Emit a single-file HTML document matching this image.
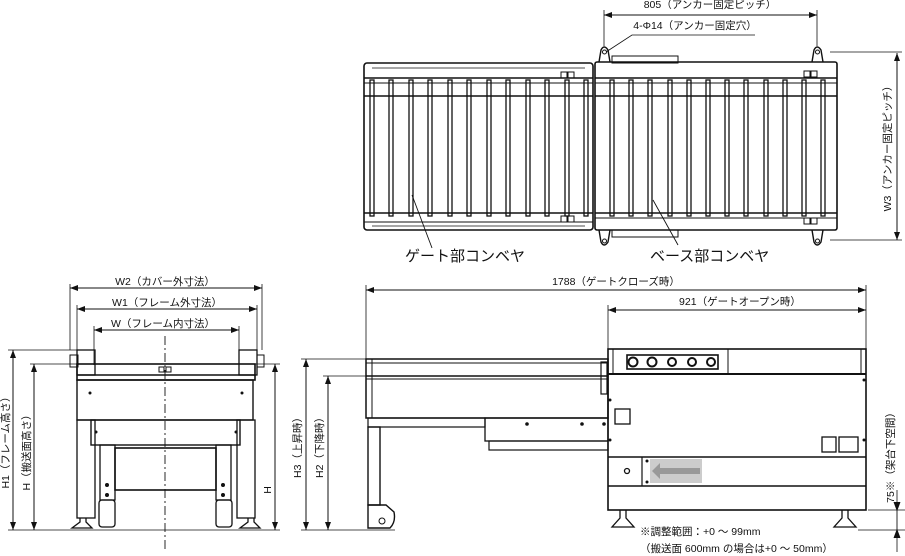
<!DOCTYPE html>
<html><head><meta charset="utf-8"><style>
html,body{margin:0;padding:0;background:#fff;}
svg{display:block;}
text{font-family:"Liberation Sans","Noto Sans CJK JP",sans-serif;fill:#111;}
</style></head><body>
<svg width="905" height="556" viewBox="0 0 905 556" xmlns="http://www.w3.org/2000/svg">
<defs>
<marker id="a" markerWidth="8" markerHeight="6" refX="8" refY="3" orient="auto-start-reverse" markerUnits="userSpaceOnUse"><path d="M0,0 L8,3 L0,6z" fill="#111"/></marker>
</defs>
<g stroke="#111" fill="none" stroke-width="1">

<!-- ================= TOP VIEW ================= -->
<line x1="604" y1="15" x2="817" y2="15" marker-start="url(#a)" marker-end="url(#a)"/>
<line x1="604" y1="10" x2="604" y2="46" stroke-width="0.8"/>
<line x1="817" y1="10" x2="817" y2="46" stroke-width="0.8"/>
<polyline points="755,35 632,35 606,52" stroke-width="0.8"/>
<line x1="897" y1="53" x2="897" y2="240" marker-start="url(#a)" marker-end="url(#a)"/>
<line x1="830" y1="52" x2="902" y2="52" stroke-width="0.8"/>
<line x1="830" y1="240" x2="902" y2="240" stroke-width="0.8"/>
<path d="M599,62 L601,50 Q604,44 608,50 L610,62" stroke-width="1.4"/>
<path d="M812,62 L814,50 Q817,44 821,50 L823,62" stroke-width="1.4"/>
<path d="M599,230 L601,242 Q604,248 608,242 L610,230" stroke-width="1.4"/>
<path d="M812,230 L814,242 Q817,248 821,242 L823,230" stroke-width="1.4"/>
<circle cx="604.5" cy="52" r="2"/><circle cx="817.5" cy="52" r="2"/>
<circle cx="604.5" cy="241" r="2"/><circle cx="817.5" cy="241" r="2"/>
<rect x="612" y="56" width="66" height="7"/><rect x="612" y="230" width="66" height="7"/>
<!-- gate conveyor -->
<rect x="364" y="63" width="229" height="167" rx="3" stroke-width="1.6"/>
<line x1="364" y1="78" x2="593" y2="78" stroke-width="1.6"/>
<line x1="364" y1="83" x2="593" y2="83" stroke-width="1"/>
<line x1="364" y1="96" x2="593" y2="96" stroke-width="1.6"/>
<line x1="364" y1="213" x2="593" y2="213" stroke-width="1.6"/>
<line x1="364" y1="222" x2="593" y2="222" stroke-width="1"/>
<line x1="372" y1="68" x2="585" y2="68" stroke-width="0.8"/>
<line x1="372" y1="226" x2="585" y2="226" stroke-width="0.8"/>
<rect x="561" y="72" width="6" height="6"/><rect x="568" y="72" width="6" height="6"/>
<rect x="561" y="216" width="6" height="6"/><rect x="568" y="216" width="6" height="6"/>
<!-- base conveyor -->
<rect x="595" y="62" width="242" height="168" rx="2" stroke-width="1.6"/>
<line x1="595" y1="78" x2="837" y2="78" stroke-width="1.6"/>
<line x1="595" y1="83" x2="837" y2="83" stroke-width="1"/>
<line x1="595" y1="96" x2="837" y2="96" stroke-width="1.6"/>
<line x1="595" y1="213" x2="837" y2="213" stroke-width="1.6"/>
<line x1="595" y1="218" x2="837" y2="218" stroke-width="1"/>
<rect x="804" y="71" width="6" height="6"/><rect x="811" y="71" width="6" height="6"/>
<rect x="804" y="218" width="6" height="6"/><rect x="811" y="218" width="6" height="6"/>
<!-- rollers -->
<g stroke-width="1.3">
<rect x="370" y="80" width="4" height="136"/><rect x="389" y="80" width="4" height="136"/><rect x="409" y="80" width="4" height="136"/><rect x="428" y="80" width="4" height="136"/><rect x="448" y="80" width="4" height="136"/><rect x="467" y="80" width="4" height="136"/><rect x="487" y="80" width="4" height="136"/><rect x="506" y="80" width="4" height="136"/><rect x="526" y="80" width="4" height="136"/><rect x="545" y="80" width="4" height="136"/><rect x="565" y="80" width="4" height="136"/><rect x="584" y="80" width="4" height="136"/>
<rect x="610" y="80" width="4" height="136"/><rect x="629" y="80" width="4" height="136"/><rect x="648" y="80" width="4" height="136"/><rect x="668" y="80" width="4" height="136"/><rect x="687" y="80" width="4" height="136"/><rect x="706" y="80" width="4" height="136"/><rect x="725" y="80" width="4" height="136"/><rect x="744" y="80" width="4" height="136"/><rect x="764" y="80" width="4" height="136"/><rect x="783" y="80" width="4" height="136"/><rect x="802" y="80" width="4" height="136"/><rect x="821" y="80" width="4" height="136"/>
</g>
<line x1="412" y1="195" x2="432" y2="248" stroke-width="0.9"/>
<line x1="653" y1="200" x2="678" y2="245" stroke-width="0.9"/>

<!-- ================= FRONT VIEW ================= -->
<line x1="70" y1="288" x2="262" y2="288" marker-start="url(#a)" marker-end="url(#a)"/>
<line x1="77" y1="309" x2="257" y2="309" marker-start="url(#a)" marker-end="url(#a)"/>
<line x1="94" y1="330" x2="239" y2="330" marker-start="url(#a)" marker-end="url(#a)"/>
<line x1="70" y1="284" x2="70" y2="350" stroke-width="0.8"/>
<line x1="262" y1="284" x2="262" y2="350" stroke-width="0.8"/>
<line x1="77" y1="305" x2="77" y2="350" stroke-width="0.8"/>
<line x1="257" y1="305" x2="257" y2="350" stroke-width="0.8"/>
<line x1="94" y1="326" x2="94" y2="365" stroke-width="0.8"/>
<line x1="239" y1="326" x2="239" y2="365" stroke-width="0.8"/>
<line x1="13" y1="350" x2="13" y2="530" marker-start="url(#a)" marker-end="url(#a)"/>
<line x1="34" y1="364" x2="34" y2="530" marker-start="url(#a)" marker-end="url(#a)"/>
<line x1="275" y1="364" x2="275" y2="530" marker-start="url(#a)" marker-end="url(#a)"/>
<line x1="8" y1="350" x2="80" y2="350" stroke-width="0.8"/>
<line x1="30" y1="364" x2="280" y2="364" stroke-width="0.8"/>
<line x1="8" y1="530" x2="280" y2="530" stroke-width="0.8"/>
<line x1="165" y1="336" x2="165" y2="552" stroke-dasharray="9,3,2,3" stroke-width="0.9"/>
<rect x="77" y="350" width="18" height="25" stroke-width="1.3"/>
<rect x="70" y="355" width="8" height="12"/>
<rect x="239" y="350" width="18" height="25" stroke-width="1.3"/>
<rect x="257" y="355" width="7" height="12"/>
<rect x="77" y="364" width="178" height="16" stroke-width="1.6"/>
<line x1="77" y1="375" x2="255" y2="375" stroke-width="1.6"/>
<rect x="159" y="367" width="5" height="5"/><rect x="166" y="367" width="5" height="5"/>
<rect x="77" y="380" width="176" height="40" stroke-width="1.4"/>
<rect x="91" y="420" width="149" height="25" stroke-width="1.4"/>
<rect x="77" y="420" width="18" height="98" stroke-width="1.3"/>
<rect x="237" y="420" width="18" height="98" stroke-width="1.3"/>
<rect x="100" y="445" width="15" height="55" stroke-width="1.3"/>
<rect x="216" y="445" width="15" height="55" stroke-width="1.3"/>
<rect x="115" y="448" width="101" height="42" stroke-width="1.6"/>
<rect x="99" y="500" width="16" height="27" rx="3" stroke-width="1.3"/>
<rect x="216" y="500" width="16" height="27" rx="3" stroke-width="1.3"/>
<path d="M80,518 V522 L72,528 H92 L86,522 V518" stroke-width="1.3"/>
<path d="M248,518 V522 L240,528 H260 L254,522 V518" stroke-width="1.3"/>
<g fill="#111" stroke="none">
<circle cx="90" cy="393" r="1.5"/><circle cx="242" cy="393" r="1.5"/>
<circle cx="96" cy="432" r="1.5"/><circle cx="236" cy="432" r="1.5"/>
<circle cx="107" cy="485" r="2"/><circle cx="223" cy="485" r="2"/>
<circle cx="107" cy="495" r="2"/><circle cx="223" cy="495" r="2"/>
</g>

<!-- ================= SIDE VIEW ================= -->
<line x1="366" y1="290" x2="866" y2="290" marker-start="url(#a)" marker-end="url(#a)"/>
<line x1="608" y1="310" x2="866" y2="310" marker-start="url(#a)" marker-end="url(#a)"/>
<line x1="366" y1="285" x2="366" y2="360" stroke-width="0.8"/>
<line x1="866" y1="285" x2="866" y2="350" stroke-width="0.8"/>
<line x1="608" y1="305" x2="608" y2="350" stroke-width="0.8"/>
<line x1="306" y1="359" x2="306" y2="530" marker-start="url(#a)" marker-end="url(#a)"/>
<line x1="328" y1="376" x2="328" y2="530" marker-start="url(#a)" marker-end="url(#a)"/>
<line x1="301" y1="359" x2="366" y2="359" stroke-width="0.8"/>
<line x1="323" y1="376" x2="366" y2="376" stroke-width="0.8"/>
<line x1="301" y1="530" x2="395" y2="530" stroke-width="0.8"/>
<line x1="897" y1="510" x2="897" y2="530" stroke-width="0.9"/>
<path d="M894,502 L897,510 L900,502" fill="#111"/>
<path d="M894,538 L897,530 L900,538" fill="#111"/>
<line x1="897" y1="490" x2="897" y2="502" stroke-width="0.8"/>
<line x1="897" y1="538" x2="897" y2="552" stroke-width="0.8"/>
<line x1="868" y1="510" x2="905" y2="510" stroke-width="0.8"/>
<line x1="858" y1="530" x2="905" y2="530" stroke-width="0.8"/>
<rect x="366" y="359" width="242" height="59" stroke-width="1.5"/>
<line x1="366" y1="363" x2="608" y2="363" stroke-width="1"/>
<line x1="366" y1="376" x2="608" y2="376" stroke-width="1.5"/>
<line x1="366" y1="379" x2="608" y2="379" stroke-width="1"/>
<line x1="372" y1="359" x2="372" y2="418" stroke-width="1"/>
<rect x="601" y="362" width="6" height="32" stroke-width="1.2"/>
<rect x="368" y="418" width="117" height="9" stroke-width="1.2"/>
<rect x="485" y="418" width="123" height="23" stroke-width="1.3"/>
<rect x="489" y="441" width="119" height="9" stroke-width="1.2"/>
<rect x="368" y="427" width="12" height="78" stroke-width="1.4"/>
<path d="M368,505 V528 H390 Q396,522 394,512 L386,505 Z" stroke-width="1.4"/>
<circle cx="382" cy="521" r="3"/>
<rect x="608" y="349" width="258" height="161" stroke-width="1.6"/>
<line x1="608" y1="374" x2="866" y2="374" stroke-width="2"/>
<line x1="613" y1="349" x2="613" y2="374"/>
<line x1="728" y1="349" x2="728" y2="374"/>
<line x1="861" y1="349" x2="861" y2="374"/>
<rect x="627" y="355" width="91" height="14" stroke-width="1.6"/>
<circle cx="633" cy="362" r="4.5" stroke-width="2"/><circle cx="652" cy="362" r="4.5" stroke-width="2"/>
<circle cx="672" cy="362" r="4" stroke-width="2"/><circle cx="692" cy="362" r="4" stroke-width="2"/>
<circle cx="711" cy="362" r="4" stroke-width="2"/>
<rect x="615" y="409" width="15" height="15" stroke-width="1.3"/>
<rect x="822" y="437" width="14" height="15" stroke-width="1.3"/>
<rect x="839" y="437" width="19" height="15" stroke-width="1.3"/>
<line x1="608" y1="457" x2="866" y2="457" stroke-width="1.6"/>
<line x1="608" y1="486" x2="866" y2="486" stroke-width="1.6"/>
<line x1="642" y1="457" x2="642" y2="486" stroke-width="1.2"/>
<circle cx="627" cy="471" r="2.5" stroke-width="1.3"/>
<rect x="650" y="459" width="52" height="24" fill="#ccc" stroke="none"/>
<path d="M652,471 L660,463 V468 H700 V474 H660 V479 Z" fill="#999" stroke="none"/>
<path d="M620,510 V518 L612,527 H634 L626,518 V510" stroke-width="1.3"/>
<path d="M842,510 V518 L834,527 H856 L848,518 V510" stroke-width="1.3"/>
<g fill="#111" stroke="none">
<circle cx="610" cy="400" r="1.5"/><circle cx="610" cy="440" r="1.5"/><circle cx="864" cy="380" r="1.5"/><circle cx="864" cy="440" r="1.5"/>
<circle cx="647" cy="461" r="1.5"/><circle cx="647" cy="482" r="1.5"/>
<circle cx="527" cy="424" r="1.8"/><circle cx="582" cy="424" r="1.8"/><circle cx="604" cy="424" r="1.8"/>
</g>
</g>

<g font-size="10.5">
<text x="710" y="8" text-anchor="middle">805（アンカー固定ピッチ）</text>
<text x="695" y="29" text-anchor="middle">4-Φ14（アンカー固定穴）</text>
<text transform="translate(891,146) rotate(-90)" text-anchor="middle">W3（アンカー固定ピッチ）</text>
<text x="165" y="285" text-anchor="middle">W2（カバー外寸法）</text>
<text x="167" y="306" text-anchor="middle">W1（フレーム外寸法）</text>
<text x="163" y="327" text-anchor="middle">W（フレーム内寸法）</text>
<text transform="translate(9,440) rotate(-90)" text-anchor="middle">H1（フレーム高さ）</text>
<text transform="translate(30,450) rotate(-90)" text-anchor="middle">H（搬送面高さ）</text>
<text transform="translate(271,490) rotate(-90)" text-anchor="middle">H</text>
<text x="616" y="285" text-anchor="middle">1788（ゲートクローズ時）</text>
<text x="740" y="305" text-anchor="middle">921（ゲートオープン時）</text>
<text transform="translate(301,445) rotate(-90)" text-anchor="middle">H3（上昇時）</text>
<text transform="translate(323,445) rotate(-90)" text-anchor="middle">H2（下降時）</text>
<text transform="translate(894,455) rotate(-90)" text-anchor="middle">75※（架台下空間）</text>
<text x="640" y="535">※調整範囲：+0 ～ 99mm</text>
<text x="640" y="552">（搬送面 600mm の場合は+0 ～ 50mm）</text>
</g>
<g font-size="15">
<text x="405" y="261">ゲート部コンベヤ</text>
<text x="650" y="261">ベース部コンベヤ</text>
</g>
</svg>
</body></html>
